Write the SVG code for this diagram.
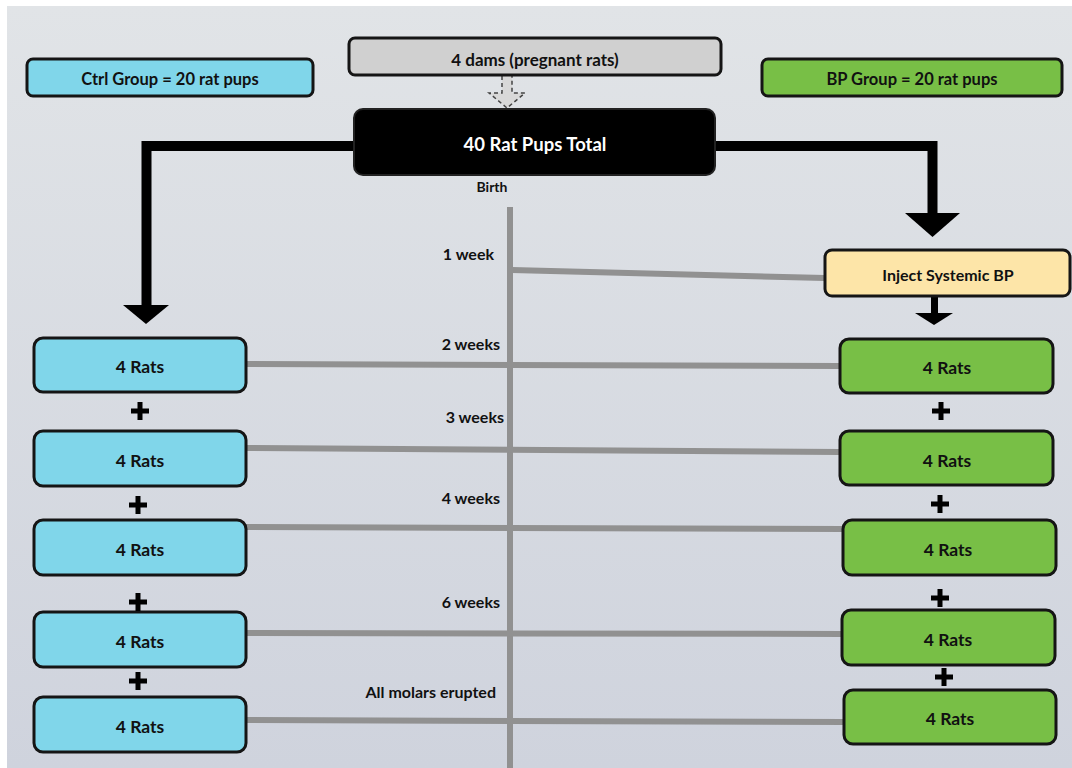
<svg xmlns="http://www.w3.org/2000/svg" width="1072" height="768" viewBox="0 0 1072 768">
<defs>
<linearGradient id="bg" x1="0" y1="0" x2="0" y2="1">
<stop offset="0" stop-color="#e1e4e7"/>
<stop offset="1" stop-color="#cfd3dd"/>
</linearGradient>
<g id="plus"><rect x="-9" y="-2.5" width="18" height="5" fill="#000"/><rect x="-2.5" y="-9" width="5" height="18" fill="#000"/></g>
</defs>
<style>
text{font-family:Lato,"Open Sans","Liberation Sans",sans-serif;font-weight:bold;text-anchor:middle;dominant-baseline:central;fill:#111}
.box{stroke:#151515;stroke-width:3}
.ctrl{fill:#80d6ea}
.bp{fill:#78bf46}
.rats{font-size:17.5px}
.lbl{font-size:16px;text-anchor:end}
.tl{stroke:#919191;stroke-width:6;fill:none}
.thick{stroke:#000;stroke-width:10;fill:none}
</style>
<rect x="0" y="0" width="1072" height="768" fill="#fff"/>
<rect x="7" y="6" width="1065" height="762" fill="url(#bg)"/>

<g id="connectors">
<path class="tl" d="M510 207 V768"/>
<path class="tl" d="M512 270 L825 278"/>
<path class="tl" d="M246 364 L840 366"/>
<path class="tl" d="M246 448 L840 452"/>
<path class="tl" d="M246 527 L843 529"/>
<path class="tl" d="M246 633 L842 634"/>
<path class="tl" d="M246 720 L844 722"/>
<path class="thick" d="M354 146 H146.5 V306"/>
<polygon points="123,305 169,305 146,324" fill="#000"/>
<path class="thick" d="M715 146 H932.5 V214"/>
<polygon points="905,213 960,213 932.5,237" fill="#000"/>
<path d="M934.5 296 V314" stroke="#000" stroke-width="7"/>
<polygon points="915,313 953,313 934,325" fill="#000"/>
<path d="M502 76 V93 H489 L507 108 L525 93 H512 V76" fill="#d8d8d8" stroke="#444" stroke-width="1.5" stroke-dasharray="4,3"/>
</g>

<g id="dams"><rect class="box" x="349" y="38" width="372" height="37" rx="6" fill="#d0d0d0"/><text x="535" y="59" font-size="17">4 dams (pregnant rats)</text></g>
<g id="total"><rect x="354" y="109" width="361" height="66" rx="9" fill="#000" stroke="#222" stroke-width="2"/><text x="535" y="144" font-size="18.5" style="fill:#fff">40 Rat Pups Total</text></g>
<g id="birth"><text x="492" y="186" font-size="14">Birth</text></g>
<g id="ctrl-group"><rect class="box ctrl" x="27" y="59" width="286" height="37" rx="6"/><text x="170" y="79" font-size="16.5">Ctrl Group = 20 rat pups</text></g>
<g id="bp-group"><rect class="box bp" x="762" y="59" width="300" height="37" rx="6"/><text x="912" y="79" font-size="16.5">BP Group = 20 rat pups</text></g>
<g id="inject"><rect class="box" x="825" y="250" width="245" height="46" rx="7" fill="#fde5a8"/><text x="948" y="274" font-size="16">Inject Systemic BP</text></g>

<g id="time-labels">
<text class="lbl" x="494" y="253">1 week</text>
<text class="lbl" x="500" y="343">2 weeks</text>
<text class="lbl" x="504" y="416">3 weeks</text>
<text class="lbl" x="500" y="497">4 weeks</text>
<text class="lbl" x="500" y="601">6 weeks</text>
<text class="lbl" x="496" y="691">All molars erupted</text>
</g>

<g id="ctrl1"><rect class="box ctrl" x="34" y="338" width="212" height="54" rx="9"/><text class="rats" x="140" y="366">4 Rats</text></g>
<g id="ctrl2"><rect class="box ctrl" x="34" y="431" width="212" height="55" rx="9"/><text class="rats" x="140" y="460">4 Rats</text></g>
<g id="ctrl3"><rect class="box ctrl" x="34" y="520" width="212" height="55" rx="9"/><text class="rats" x="140" y="549">4 Rats</text></g>
<g id="ctrl4"><rect class="box ctrl" x="34" y="612" width="212" height="55" rx="9"/><text class="rats" x="140" y="641">4 Rats</text></g>
<g id="ctrl5"><rect class="box ctrl" x="34" y="697" width="212" height="55" rx="9"/><text class="rats" x="140" y="726">4 Rats</text></g>

<g id="bp1"><rect class="box bp" x="840" y="339" width="213" height="54" rx="9"/><text class="rats" x="947" y="367">4 Rats</text></g>
<g id="bp2"><rect class="box bp" x="840" y="431" width="213" height="54" rx="9"/><text class="rats" x="947" y="460">4 Rats</text></g>
<g id="bp3"><rect class="box bp" x="843" y="520" width="213" height="55" rx="9"/><text class="rats" x="948" y="549">4 Rats</text></g>
<g id="bp4"><rect class="box bp" x="842" y="610" width="213" height="55" rx="9"/><text class="rats" x="948" y="639">4 Rats</text></g>
<g id="bp5"><rect class="box bp" x="844" y="690" width="212" height="54" rx="9"/><text class="rats" x="950" y="718">4 Rats</text></g>

<g id="plus-signs">
<use href="#plus" x="140" y="411"/>
<use href="#plus" x="138" y="505"/>
<use href="#plus" x="138" y="602"/>
<use href="#plus" x="138" y="681"/>
<use href="#plus" x="941" y="411"/>
<use href="#plus" x="940" y="504"/>
<use href="#plus" x="940" y="598"/>
<use href="#plus" x="944" y="677"/>
</g>
</svg>
